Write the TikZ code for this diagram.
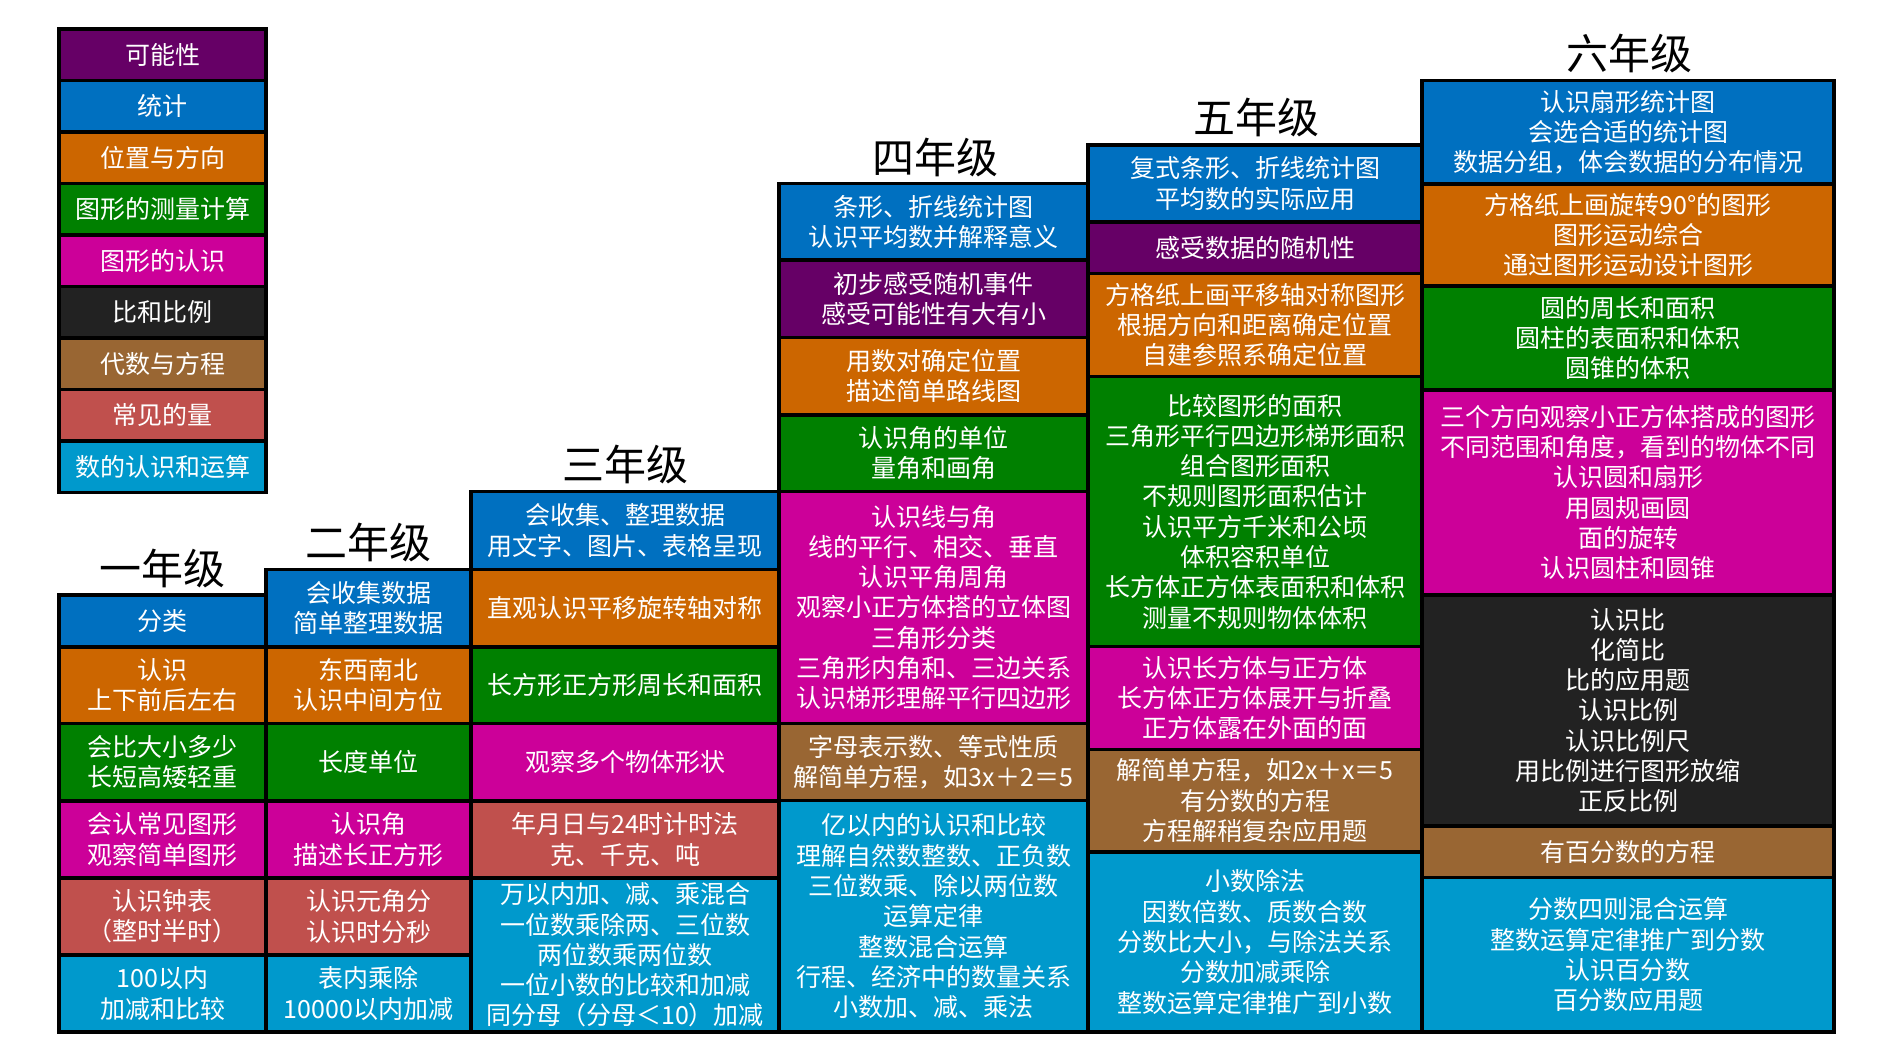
\documentclass[tikz,border=0pt]{standalone}
\usepackage{fontspec}
\setmainfont{Noto Sans CJK SC}
\newfontfamily\cjk{Noto Sans CJK SC}
\definecolor{cPossib}{HTML}{660066}
\definecolor{cStat}{HTML}{0070C0}
\definecolor{cPos}{HTML}{CC6600}
\definecolor{cMeas}{HTML}{008000}
\definecolor{cShape}{HTML}{CC0099}
\definecolor{cRatio}{HTML}{222222}
\definecolor{cAlg}{HTML}{996633}
\definecolor{cQty}{HTML}{C0504D}
\definecolor{cNum}{HTML}{0099CC}
\tikzset{
  cell/.style={draw=black, line width=3.5pt, text=white, align=center, inner sep=0pt,
    font=\cjk\fontsize{25}{30.3}\selectfont},
  gradetitle/.style={text=black, inner sep=0pt, font=\cjk\fontsize{42}{50}\selectfont}
}
\newcommand\cellbox[7]{\node[cell, fill=#2, minimum width={#5-#3}, minimum height={#6-#4}] (#1) at ({(#3+#5)/2},{(#4+#6)/2}) {#7};}
\begin{document}
\begin{tikzpicture}[x=1pt,y=-1pt]
\useasboundingbox (0,0) rectangle (1880,1046);
% legend
\cellbox{L1}{cPossib}{59}{29}{266}{80.5}{可能性}
\cellbox{L2}{cStat}{59}{80.5}{266}{132}{统计}
\cellbox{L3}{cPos}{59}{132}{266}{183.5}{位置与方向}
\cellbox{L4}{cMeas}{59}{183.5}{266}{235}{图形的测量计算}
\cellbox{L5}{cShape}{59}{235}{266}{286.5}{图形的认识}
\cellbox{L6}{cRatio}{59}{286.5}{266}{338}{比和比例}
\cellbox{L7}{cAlg}{59}{338}{266}{389.5}{代数与方程}
\cellbox{L8}{cQty}{59}{389.5}{266}{441}{常见的量}
\cellbox{L9}{cNum}{59}{441}{266}{492.5}{数的认识和运算}
% titles
\node[gradetitle] (t1) at (162,568) {一年级};
\node[gradetitle] (t2) at (368,542) {二年级};
\node[gradetitle] (t3) at (625,464) {三年级};
\node[gradetitle] (t4) at (935,157) {四年级};
\node[gradetitle] (t5) at (1256,117) {五年级};
\node[gradetitle] (t6) at (1629,53) {六年级};
% grade 1
\cellbox{a1}{cStat}{59}{595}{266}{647}{分类}
\cellbox{a2}{cPos}{59}{647}{266}{723.5}{认识\\上下前后左右}
\cellbox{a3}{cMeas}{59}{723.5}{266}{801}{会比大小多少\\长短高矮轻重}
\cellbox{a4}{cShape}{59}{801}{266}{878}{会认常见图形\\观察简单图形}
\cellbox{a5}{cQty}{59}{878}{266}{955}{认识钟表\\（整时半时）}
\cellbox{a6}{cNum}{59}{955}{266}{1032}{100以内\\加减和比较}
% grade 2
\cellbox{b1}{cStat}{266}{569.5}{471}{647}{会收集数据\\简单整理数据}
\cellbox{b2}{cPos}{266}{647}{471}{723.5}{东西南北\\认识中间方位}
\cellbox{b3}{cMeas}{266}{723.5}{471}{801}{长度单位}
\cellbox{b4}{cShape}{266}{801}{471}{878}{认识角\\描述长正方形}
\cellbox{b5}{cQty}{266}{878}{471}{955}{认识元角分\\认识时分秒}
\cellbox{b6}{cNum}{266}{955}{471}{1032}{表内乘除\\10000以内加减}
% grade 3
\cellbox{c1}{cStat}{471}{491.5}{779}{569.5}{会收集、整理数据\\用文字、图片、表格呈现}
\cellbox{c2}{cPos}{471}{569.5}{779}{647}{直观认识平移旋转轴对称}
\cellbox{c3}{cMeas}{471}{647}{779}{723.5}{长方形正方形周长和面积}
\cellbox{c4}{cShape}{471}{723.5}{779}{801}{观察多个物体形状}
\cellbox{c5}{cQty}{471}{801}{779}{878}{年月日与24时计时法\\克、千克、吨}
\cellbox{c6}{cNum}{471}{878}{779}{1032}{万以内加、减、乘混合\\一位数乘除两、三位数\\两位数乘两位数\\一位小数的比较和加减\\同分母（分母＜10）加减}
% grade 4
\cellbox{d1}{cStat}{779}{183.5}{1088}{260}{条形、折线统计图\\认识平均数并解释意义}
\cellbox{d2}{cPossib}{779}{260}{1088}{337.5}{初步感受随机事件\\感受可能性有大有小}
\cellbox{d3}{cPos}{779}{337.5}{1088}{415}{用数对确定位置\\描述简单路线图}
\cellbox{d4}{cMeas}{779}{415}{1088}{491.5}{认识角的单位\\量角和画角}
\cellbox{d5}{cShape}{779}{491.5}{1088}{723.5}{认识线与角\\线的平行、相交、垂直\\认识平角周角\\观察小正方体搭的立体图\\三角形分类\\三角形内角和、三边关系\\认识梯形理解平行四边形}
\cellbox{d6}{cAlg}{779}{723.5}{1088}{800.5}{字母表示数、等式性质\\解简单方程，如3x＋2＝5}
\cellbox{d7}{cNum}{779}{800.5}{1088}{1032}{亿以内的认识和比较\\理解自然数整数、正负数\\三位数乘、除以两位数\\运算定律\\整数混合运算\\行程、经济中的数量关系\\小数加、减、乘法}
% grade 5
\cellbox{e1}{cStat}{1088}{145}{1422}{222}{复式条形、折线统计图\\平均数的实际应用}
\cellbox{e2}{cPossib}{1088}{222}{1422}{273.5}{感受数据的随机性}
\cellbox{e3}{cPos}{1088}{273.5}{1422}{376.5}{方格纸上画平移轴对称图形\\根据方向和距离确定位置\\自建参照系确定位置}
\cellbox{e4}{cMeas}{1088}{376.5}{1422}{646.5}{比较图形的面积\\三角形平行四边形梯形面积\\组合图形面积\\不规则图形面积估计\\认识平方千米和公顷\\体积容积单位\\长方体正方体表面积和体积\\测量不规则物体体积}
\cellbox{e5}{cShape}{1088}{646.5}{1422}{749.5}{认识长方体与正方体\\长方体正方体展开与折叠\\正方体露在外面的面}
\cellbox{e6}{cAlg}{1088}{749.5}{1422}{852}{解简单方程，如2x＋x＝5\\有分数的方程\\方程解稍复杂应用题}
\cellbox{e7}{cNum}{1088}{852}{1422}{1032}{小数除法\\因数倍数、质数合数\\分数比大小，与除法关系\\分数加减乘除\\整数运算定律推广到小数}
% grade 6
\cellbox{f1}{cStat}{1422}{80.5}{1834}{184}{认识扇形统计图\\会选合适的统计图\\数据分组，体会数据的分布情况}
\cellbox{f2}{cPos}{1422}{184}{1834}{286}{方格纸上画旋转90°的图形\\图形运动综合\\通过图形运动设计图形}
\cellbox{f3}{cMeas}{1422}{286}{1834}{390}{圆的周长和面积\\圆柱的表面积和体积\\圆锥的体积}
\cellbox{f4}{cShape}{1422}{390}{1834}{595}{三个方向观察小正方体搭成的图形\\不同范围和角度，看到的物体不同\\认识圆和扇形\\用圆规画圆\\面的旋转\\认识圆柱和圆锥}
\cellbox{f5}{cRatio}{1422}{595}{1834}{826}{认识比\\化简比\\比的应用题\\认识比例\\认识比例尺\\用比例进行图形放缩\\正反比例}
\cellbox{f6}{cAlg}{1422}{826}{1834}{877.5}{有百分数的方程}
\cellbox{f7}{cNum}{1422}{877.5}{1834}{1032}{分数四则混合运算\\整数运算定律推广到分数\\认识百分数\\百分数应用题}
\end{tikzpicture}
\end{document}
